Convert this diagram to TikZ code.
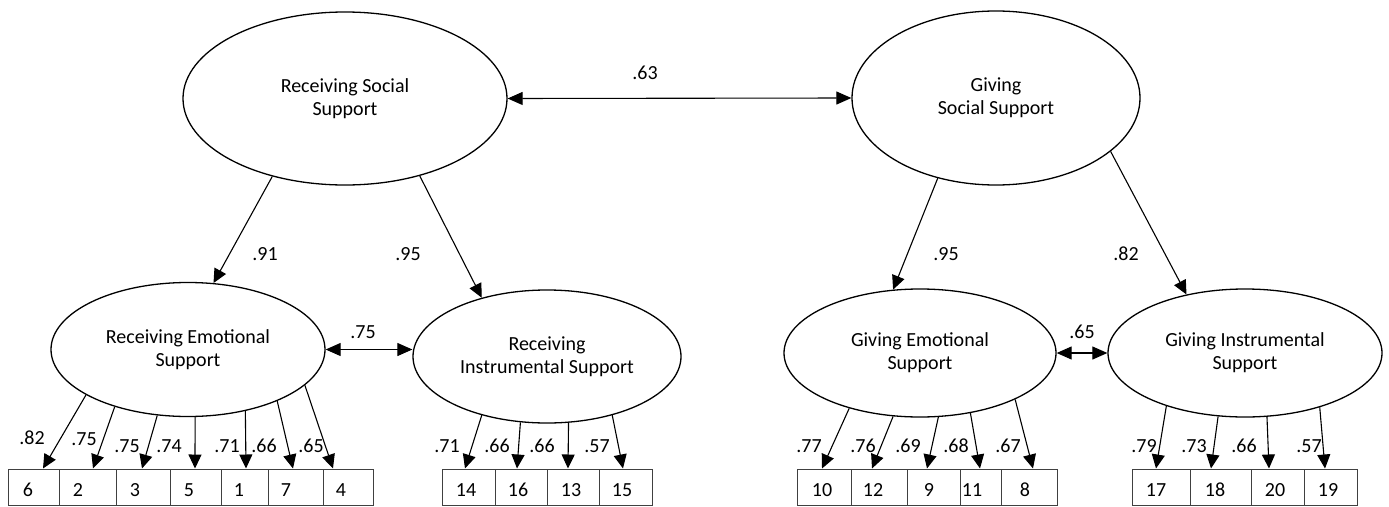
\documentclass[tikz,border=0pt]{standalone}
\usepackage{fontspec}
\setmainfont{Carlito}
\usetikzlibrary{shapes.geometric,arrows.meta}
\begin{document}
\begin{tikzpicture}[x=1pt,y=-1pt,
  lat/.style={ellipse,draw,line width=1.3pt,inner sep=0pt,align=center,font=\fontsize{20}{23}\selectfont},
  ind/.style={rectangle,draw=black!75,line width=1pt,inner sep=0pt,minimum height=36pt},
  num/.style={inner sep=0pt,font=\fontsize{20}{23}\selectfont},
  coef/.style={inner sep=0pt,font=\fontsize{20}{23}\selectfont},
  load/.style={line width=1.1pt,-{Triangle[length=14pt,width=13pt]}},
  cov/.style={line width=1.1pt,{Triangle[length=15pt,width=13pt]}-{Triangle[length=15pt,width=13pt]}}
]
\useasboundingbox (0,0) rectangle (1389,506);

% latent variables
\node[lat,minimum width=324pt,minimum height=173pt] (RSS) at (345,98.5) {Receiving Social\\Support};
\node[lat,minimum width=288pt,minimum height=174pt] (GSS) at (996,98) {Giving\\Social Support};
\node[lat,minimum width=274pt,minimum height=134pt] (RES) at (188,349.5) {Receiving Emotional\\Support};
\node[lat,minimum width=268pt,minimum height=133pt] (RIS) at (547,356.5) {Receiving\\Instrumental Support};
\node[lat,minimum width=272pt,minimum height=128pt] (GES) at (920,353) {Giving Emotional\\Support};
\node[lat,minimum width=274pt,minimum height=128pt] (GIS) at (1245,353) {Giving Instrumental\\Support};

% covariances
\draw[cov] (RSS.east) -- (GSS.west);
\node[coef] (c63) at (645,73) {.63};
\draw[cov] (RES.east) -- (RES.east -| RIS.west);
\node[coef] (c75) at (363,332) {.75};
\draw[cov] (GES.east) -- (GIS.west);
\node[coef] (c65) at (1082,332) {.65};

% second order loadings
\draw[load] (RSS.227) -- (RES.69);
\node[coef] (l91) at (265,254) {.91};
\draw[load] (RSS.314) -- (RIS.138);
\node[coef] (l95a) at (408,254) {.95};
\draw[load] (GSS.234) -- (GES.113);
\node[coef] (l95b) at (946,254) {.95};
\draw[load] (GSS.335) -- (GIS.135);
\node[coef] (l82) at (1126,254) {.82};

% indicator boxes: receiving emotional
\node[ind,minimum width=51pt] (b6) at (33.5,487) {};
\node[ind,minimum width=57pt] (b2) at (87.5,487) {};
\node[ind,minimum width=54pt] (b3) at (143,487) {};
\node[ind,minimum width=51pt] (b5) at (195.5,487) {};
\node[ind,minimum width=47pt] (b1) at (244.5,487) {};
\node[ind,minimum width=55pt] (b7) at (295.5,487) {};
\node[ind,minimum width=50pt] (b4) at (348,487) {};
\node[num] (t6) at (28,490) {6};
\node[num] (t2) at (78,490) {2};
\node[num] (t3) at (135,490) {3};
\node[num] (t5) at (189,490) {5};
\node[num] (t1) at (239,490) {1};
\node[num] (t7) at (286,490) {7};
\node[num] (t4) at (341,490) {4};

% receiving instrumental
\node[ind,minimum width=53pt] (b14) at (468.5,487) {};
\node[ind,minimum width=52pt] (b16) at (521,487) {};
\node[ind,minimum width=52pt] (b13) at (573,487) {};
\node[ind,minimum width=53pt] (b15) at (625.5,487) {};
\node[num] (t14) at (466,490) {14};
\node[num] (t16) at (518,490) {16};
\node[num] (t13) at (571,490) {13};
\node[num] (t15) at (622,490) {15};

% giving emotional
\node[ind,minimum width=54pt] (b10) at (824,487) {};
\node[ind,minimum width=56pt] (b12) at (879,487) {};
\node[ind,minimum width=53pt] (b9) at (933.5,487) {};
\node[ind,minimum width=41pt] (b11) at (980.5,487) {};
\node[ind,minimum width=56pt] (b8) at (1029,487) {};
\node[num] (t10) at (822,490) {10};
\node[num] (t12) at (873,490) {12};
\node[num] (t9) at (929,490) {9};
\node[num] (t11) at (972,490) {11};
\node[num] (t8) at (1025,490) {8};

% giving instrumental
\node[ind,minimum width=58pt] (b17) at (1161,487) {};
\node[ind,minimum width=61pt] (b18) at (1220.5,487) {};
\node[ind,minimum width=53pt] (b20) at (1277.5,487) {};
\node[ind,minimum width=53pt] (b19) at (1330.5,487) {};
\node[num] (t17) at (1156,490) {17};
\node[num] (t18) at (1215,490) {18};
\node[num] (t20) at (1275,490) {20};
\node[num] (t19) at (1328,490) {19};

% first order loadings
\draw[load] (RES.204) -- ([xshift=9.5pt]b6.north);
\draw[load] (RES.218) -- ([xshift=5.5pt]b2.north);
\draw[load] (RES.245) -- ([xshift=-1pt]b3.north);
\draw[load] (RES.276) -- ([xshift=-0.5pt]b5.north);
\draw[load] (RES.313) -- ([xshift=1.5pt]b1.north);
\draw[load] (RES.330) -- ([xshift=-2.5pt]b7.north);
\draw[load] (RES.343) -- ([xshift=-15pt]b4.north);
\node[coef] (e82) at (32,438) {.82};
\node[coef] (e75a) at (84,439) {.75};
\node[coef] (e75b) at (127,446) {.75};
\node[coef] (e74) at (169,446) {.74};
\node[coef] (e71) at (227,446) {.71};
\node[coef] (e66) at (264,446) {.66};
\node[coef] (e65) at (311,446) {.65};

\draw[load] (RIS.222) -- ([xshift=-3.5pt]b14.north);
\draw[load] (RIS.248) -- ([xshift=-4pt]b16.north);
\draw[load] (RIS.288) -- ([xshift=-5pt]b13.north);
\draw[load] (RIS.318) -- ([xshift=-2.5pt]b15.north);
\node[coef] (i71) at (447,446) {.71};
\node[coef] (i66a) at (497,446) {.66};
\node[coef] (i66b) at (542,446) {.66};
\node[coef] (i57) at (597,446) {.57};

\draw[load] (GES.218) -- ([xshift=-2pt]b10.north);
\draw[load] (GES.247) -- ([xshift=-7pt]b12.north);
\draw[load] (GES.286) -- ([xshift=-6.5pt]b9.north);
\draw[load] (GES.310) -- ([xshift=-0.5pt]b11.north);
\draw[load] (GES.334) -- ([xshift=4pt]b8.north);
\node[coef] (g77) at (809,446) {.77};
\node[coef] (g76) at (863,446) {.76};
\node[coef] (g69) at (908,446) {.69};
\node[coef] (g68) at (956,446) {.68};
\node[coef] (g67) at (1008,446) {.67};

\draw[load] (GIS.214) -- ([xshift=-5pt]b17.north);
\draw[load] (GIS.247) -- ([xshift=-9.5pt]b18.north);
\draw[load] (GIS.289) -- ([xshift=-8.5pt]b20.north);
\draw[load] (GIS.324) -- ([xshift=-5.5pt]b19.north);
\node[coef] (h79) at (1144,446) {.79};
\node[coef] (h73) at (1194,446) {.73};
\node[coef] (h66) at (1244,446) {.66};
\node[coef] (h57) at (1309,446) {.57};
\end{tikzpicture}
\end{document}
